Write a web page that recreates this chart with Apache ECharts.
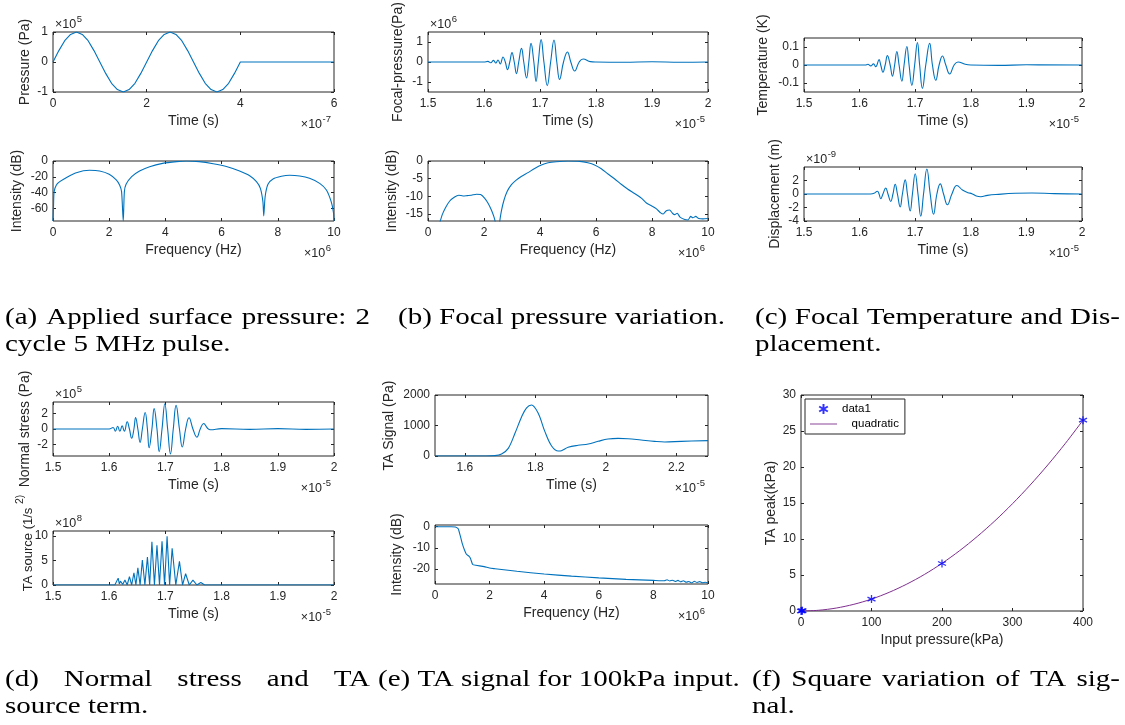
<!DOCTYPE html>
<html><head><meta charset="utf-8">
<script src="https://cdn.jsdelivr.net/npm/echarts@6/dist/echarts.min.js"></script>
<style>html,body{margin:0;padding:0;background:#fff}#c{width:1125px;height:725px}</style>
</head><body><div id="c"></div>
<script>
// ================= DATA =================
// (a) applied surface pressure: time (x1e-7 s), pressure (x1e5 Pa)
const pulseTime = [0,0.125,0.25,0.375,0.5,0.625,0.75,0.875,1,1.125,1.25,1.375,1.5,1.625,1.75,1.875,2,2.125,2.25,2.375,2.5,2.625,2.75,2.875,3,3.125,3.25,3.375,3.5,3.625,3.75,3.875,4,6];
const pulsePressure = [0,0.38,0.71,0.92,1,0.92,0.71,0.38,0,-0.38,-0.71,-0.92,-1,-0.92,-0.71,-0.38,0,0.38,0.71,0.92,1,0.92,0.71,0.38,0,-0.38,-0.71,-0.92,-1,-0.92,-0.71,-0.38,0,0];
// (a) spectrum: frequency (x1e6 Hz), intensity (dB)
const pulseFreq = [0,0.02,0.04,0.12,0.24,0.47,0.83,1.3,1.66,2.0,2.25,2.37,2.44,2.5,2.54,2.6,2.8,3.08,3.44,3.9,4.4,4.75,5.2,5.7,6.2,6.64,7.0,7.24,7.38,7.47,7.5,7.55,7.65,7.83,8.13,8.42,8.78,9.13,9.49,9.73,9.9,9.98,10];
const pulseDb = [-76,-55,-38.8,-30.4,-26.2,-21.1,-14.8,-11.8,-12.7,-16.9,-24,-30.4,-38.8,-76,-38.8,-29.5,-19.8,-12.7,-7.2,-3,-0.8,0,-0.8,-3.4,-7.2,-12.7,-18.6,-26.2,-34.6,-51.5,-69.6,-45,-29.5,-22.8,-19.4,-18.1,-19,-21.9,-28.3,-36.7,-51.5,-65,-76];
// (b) focal pressure: time (x1e-5 s), pressure (x1e6 Pa)
const focalTime = [1.5,1.6,1.607,1.612,1.617,1.621,1.625,1.629,1.634,1.638,1.642,1.646,1.650,1.654,1.658,1.662,1.667,1.671,1.676,1.680,1.684,1.689,1.693,1.697,1.702,1.707,1.713,1.719,1.725,1.730,1.735,1.742,1.749,1.755,1.762,1.770,1.777,1.790,1.800,1.850,1.900,1.950,2.0];
const focalPressure = [0,0,0.03,-0.04,0.08,-0.05,0.1,-0.1,0.25,0,-0.38,0,0.47,0,-0.58,0,0.68,0,-0.80,0,0.93,0,-0.97,0,1.12,0,-1.18,0,1.10,0,-0.87,0,0.50,0,-0.45,0,0.15,0.02,0,-0.01,0.01,-0.01,0];
// (b) spectrum: frequency (x1e6 Hz), intensity (dB)
const focalFreq = [0.42,0.51,0.62,0.77,0.95,1.10,1.25,1.40,1.55,1.73,1.88,2.02,2.14,2.26,2.35,2.40,2.45,2.52,2.56,2.62,2.71,2.83,2.98,3.15,3.33,3.57,3.81,4.05,4.29,4.58,5.0,5.42,5.71,5.95,6.19,6.43,6.67,6.90,7.14,7.38,7.62,7.80,7.98,8.15,8.31,8.40,8.51,8.63,8.73,8.81,8.90,9.0,9.17,9.29,9.38,9.46,9.56,9.67,9.82,10];
const focalDb = [-17.5,-15.2,-13.3,-11.4,-10.2,-9.7,-9.9,-9.8,-9.7,-9.4,-9.5,-10.5,-11.9,-13.8,-15.7,-17.2,-20,-20,-17.2,-14.2,-11.2,-8.6,-6.7,-5.4,-4.4,-3.3,-2.1,-1.1,-0.5,-0.2,0,-0.1,-0.5,-1.1,-2.2,-3.7,-5.1,-6.6,-8.0,-9.2,-10.5,-11.9,-12.7,-13.5,-14.7,-15.0,-14.1,-13.9,-14.8,-15.2,-14.8,-15.9,-16.6,-16.7,-15.7,-16.1,-15.7,-16.3,-16.4,-16.3];
// (c) focal temperature: time (x1e-5 s), temperature (K)
const tempTime = [1.5,1.61,1.615,1.62,1.625,1.629,1.635,1.638,1.642,1.646,1.650,1.655,1.659,1.663,1.667,1.671,1.676,1.680,1.685,1.689,1.694,1.699,1.704,1.708,1.713,1.719,1.726,1.731,1.737,1.743,1.749,1.755,1.762,1.770,1.777,1.790,1.800,1.850,1.900,2.0];
const tempK = [0,0,0.004,-0.005,0.006,-0.01,0.03,0,-0.04,0,0.052,0,-0.062,0,0.075,0,-0.09,0,0.103,0,-0.113,0,0.125,0,-0.13,0,0.12,0,-0.085,0,0.05,0,-0.05,0,0.017,0.004,0,-0.002,0.001,0];
// (c) displacement: time (x1e-5 s), displacement (x1e-9 m)
const dispTime = [1.5,1.62,1.626,1.632,1.635,1.638,1.642,1.647,1.651,1.656,1.660,1.664,1.668,1.673,1.677,1.682,1.686,1.691,1.695,1.700,1.705,1.710,1.715,1.721,1.727,1.733,1.739,1.745,1.751,1.758,1.766,1.775,1.785,1.795,1.802,1.81,1.818,1.83,1.85,1.88,1.91,1.95,2.0];
const dispM = [0,0,0.1,0.4,0,-0.7,0,0.9,0,-1.1,0,1.45,0,-1.9,0,2.1,0,-2.5,0,3.0,0,-3.3,0,3.7,0,-3.0,0,1.5,0,-1.6,0,1.25,0.6,0.2,0.05,-0.3,-0.4,-0.2,-0.05,0.1,0.15,0.05,0];
// (d) normal stress: time (x1e-5 s), stress (x1e5 Pa)
const stressTime = [1.5,1.60,1.607,1.611,1.615,1.619,1.623,1.627,1.632,1.636,1.640,1.644,1.647,1.651,1.655,1.659,1.664,1.668,1.671,1.676,1.680,1.685,1.689,1.694,1.699,1.704,1.709,1.714,1.719,1.725,1.730,1.736,1.742,1.749,1.756,1.762,1.768,1.775,1.78,1.8,1.85,1.9,1.95,2.0];
const stressPa = [0,0,0.2,-0.3,0.35,-0.3,0.4,-0.3,0.94,0,-1.19,0,1.49,0,-1.74,0,2.13,0,-2.43,0,2.64,0,-2.94,0,3.28,0,-3.23,0,3.06,0,-2.34,0,1.45,0,-1.06,0,0.72,0.1,-0.1,0.05,-0.05,0.05,-0.05,0];
// (d) TA source: time (x1e-5 s), source (x1e8 1/s^2)
const srcTime = [1.5,1.610,1.613,1.616,1.618,1.620,1.624,1.628,1.632,1.636,1.640,1.644,1.6475,1.651,1.655,1.659,1.6635,1.668,1.672,1.676,1.6805,1.685,1.6895,1.694,1.6985,1.703,1.7075,1.712,1.7185,1.725,1.7305,1.736,1.7425,1.749,1.756,1.763,1.770,2.0];
const srcVal = [0,0,0.3,1.4,0.2,0.8,0.1,1.0,0,1.7,0,2.5,0,3.5,0,5.1,0,5.7,0,8.8,0,8.1,0,8.9,0,9.9,0,7.5,0,4.8,0,2.3,0,1.0,0,0.5,0,0];
// (e) TA signal: time (x1e-5 s), signal (Pa)
const sigTime = [1.515,1.6,1.66,1.685,1.704,1.723,1.742,1.761,1.775,1.789,1.808,1.827,1.846,1.865,1.874,1.893,1.921,1.95,1.978,2.006,2.035,2.063,2.1,2.138,2.167,2.214,2.29];
const sigPa = [0,0,0,11,66,251,743,1290,1580,1672,1399,798,328,164,175,284,350,394,481,557,579,568,525,481,459,481,503];
// (e) TA spectrum: frequency (x1e6 Hz), intensity (dB)
const sigFreq = [0,0.3,0.6,0.75,0.85,0.92,1.0,1.08,1.15,1.25,1.3,1.38,1.5,1.8,2.0,2.2,3,4,5,6,7,8,8.4,8.5,8.6,8.7,8.8,8.9,9.0,9.1,9.2,9.3,9.4,9.5,9.6,9.7,9.8,9.9,10];
const sigDb = [0,0,0,-0.1,-1,-4,-8,-11,-13,-14,-15,-17.8,-18.2,-18.8,-19.5,-19.8,-21,-22.3,-23.3,-24.1,-24.8,-25.3,-25.5,-25,-25.6,-25.2,-25.8,-25.3,-26,-25.5,-26.2,-25.8,-26.5,-25.7,-26.3,-25.9,-26.4,-26.2,-26.5];
// (f) TA peak vs input pressure (kPa)
const inputKPa = [0,1,2,100,200,400];
const peakKPa = [0,0.02,0.05,1.65,6.6,26.5];
const fitKPa = [0,25,50,75,100,125,150,175,200,225,250,275,300,325,350,375,400];
const fitPeak = [0,0.1,0.41,0.93,1.65,2.59,3.73,5.07,6.62,8.38,10.35,12.52,14.9,17.49,20.28,23.28,26.5];
// captions
const capA = ['(a) Applied surface pressure: 2', 'cycle 5 MHz pulse.'];
const capB = ['(b) Focal pressure variation.'];
const capC = ['(c) Focal Temperature and Dis-', 'placement.'];
const capD = ['(d) Normal stress and TA', 'source term.'];
const capE = ['(e) TA signal for 100kPa input.'];
const capF = ['(f) Square variation of TA sig-', 'nal.'];

// ================= LAYOUT / STYLE =================
const FONT = '"Liberation Sans", Arial, Helvetica, sans-serif';
const SERIF = '"Liberation Serif", "Times New Roman", serif';
const TXT = '#262626';
const BLUE = '#0072BD';
const zip = (a, b) => a.map((v, i) => [v, b[i]]);
const cv = document.createElement('canvas');
const ctx = cv.getContext('2d');
const tw = (t, f) => { ctx.font = f; return ctx.measureText(t).width; };

const panels = [
  {box:[53,32,334,92], x:[0,6], xt:[0,2,4,6], y:[-1,1], yt:[-1,0,1], xn:'Time (s)', yn:'Pressure (Pa)', yg:21, xe:'-7', ye:'5',
   s:[{d:zip(pulseTime,pulsePressure), smooth:false}]},
  {box:[53,161,334,221], x:[0,10], xt:[0,2,4,6,8,10], y:[-76,0], yt:[-60,-40,-20,0], xn:'Frequency (Hz)', yn:'Intensity (dB)', yg:29, xe:'6',
   s:[{d:zip(pulseFreq,pulseDb), smooth:0.25}]},
  {box:[428,32,708,92], x:[1.5,2], xt:[1.5,1.6,1.7,1.8,1.9,2], y:[-1.5,1.5], yt:[-1,0,1], xn:'Time (s)', yn:'Focal-pressure(Pa)', yg:23, xe:'-5', ye:'6',
   s:[{d:zip(focalTime,focalPressure), smooth:0.45}]},
  {box:[428,161,708,221], x:[0,10], xt:[0,2,4,6,8,10], y:[-17,0], yt:[-15,-10,-5,0], xn:'Frequency (Hz)', yn:'Intensity (dB)', yg:29, xe:'6',
   s:[{d:zip(focalFreq,focalDb), smooth:0.2}]},
  {box:[804,38,1082,92], x:[1.5,2], xt:[1.5,1.6,1.7,1.8,1.9,2], y:[-0.15,0.15], yt:[-0.1,0,0.1], xn:'Time (s)', yn:'Temperature (K)', yg:34, xe:'-5',
   s:[{d:zip(tempTime,tempK), smooth:0.45}]},
  {box:[804,167,1082,221], x:[1.5,2], xt:[1.5,1.6,1.7,1.8,1.9,2], y:[-4,4], yt:[-4,-2,0,2], xn:'Time (s)', yn:'Displacement (m)', yg:22, xe:'-5', ye:'-9',
   s:[{d:zip(dispTime,dispM), smooth:0.45}]},
  {box:[53,402,334,456], x:[1.5,2], xt:[1.5,1.6,1.7,1.8,1.9,2], y:[-3.5,3.5], yt:[-2,0,2], xn:'Time (s)', yn:'Normal stress (Pa)', yg:21, xe:'-5', ye:'5',
   s:[{d:zip(stressTime,stressPa), smooth:0.45}]},
  {box:[53,531,334,585], x:[1.5,2], xt:[1.5,1.6,1.7,1.8,1.9,2], y:[0,11], yt:[0,5,10], xn:'Time (s)', yn:null, xe:'-5', ye:'8',
   s:[{d:zip(srcTime,srcVal), smooth:false}]},
  {box:[435,395,708,456], x:[1.515,2.29], xt:[1.6,1.8,2,2.2], y:[0,2000], yt:[0,1000,2000], xn:'Time (s)', yn:'TA Signal (Pa)', yg:39, xe:'-5',
   s:[{d:zip(sigTime,sigPa), smooth:0.35}]},
  {box:[435,525,708,584], x:[0,10], xt:[0,2,4,6,8,10], y:[-27,0.8], yt:[-20,-10,0], xn:'Frequency (Hz)', yn:'Intensity (dB)', yg:31, xe:'6',
   s:[{d:zip(sigFreq,sigDb), smooth:0.15}]},
  {box:[801,395,1083,611], x:[0,400], xt:[0,100,200,300,400], y:[0,30], yt:[0,5,10,15,20,25,30], xn:'Input pressure(kPa)', yn:'TA peak(kPa)', yg:23,
   s:[]}
];

const option = {animation:false, backgroundColor:'#fff', grid:[], xAxis:[], yAxis:[], series:[], graphic:[]};
const tick = v => ({show:true, inside:true, length:3, lineStyle:{color:TXT, width:1}, customValues:v});
const lab = (v, m, show) => ({show:show, margin:m, color:TXT, fontSize:12, fontFamily:FONT, customValues:v, formatter: x => String(x)});
const nameStyle = {color:TXT, fontSize:14, fontFamily:FONT};
const noLine = {show:false, onZero:false};

function expo(x, y, e, alignRight) {
  const fb = '12.5px ' + FONT, fe = '9.5px ' + FONT;
  const wb = tw('×10', fb), we = tw(e, fe);
  const x0 = alignRight ? x - we - wb - 0.5 : x;
  option.graphic.push({type:'text', x:x0, y:y, silent:true, style:{text:'×10', font:fb, fill:TXT, textAlign:'left', align:'left', textVerticalAlign:'middle', verticalAlign:'middle'}});
  option.graphic.push({type:'text', x:x0 + wb + 0.5, y:y - 6, silent:true, style:{text:e, font:fe, fill:TXT, textAlign:'left', align:'left', textVerticalAlign:'middle', verticalAlign:'middle'}});
}

panels.forEach((p, i) => {
  const [l, t, r, b] = p.box;
  option.grid.push({left:l, top:t, width:r - l, height:b - t, show:true, borderColor:TXT, borderWidth:1, backgroundColor:'#fff', containLabel:false});
  option.xAxis.push({type:'value', gridIndex:i, min:p.x[0], max:p.x[1], position:'bottom', axisLine:noLine, splitLine:{show:false},
    axisTick:tick(p.xt), axisLabel:lab(p.xt, 6, true), name:p.xn, nameLocation:'middle', nameGap:22, nameTextStyle:nameStyle});
  option.xAxis.push({type:'value', gridIndex:i, min:p.x[0], max:p.x[1], position:'top', axisLine:noLine, splitLine:{show:false},
    axisTick:tick(p.xt), axisLabel:lab(p.xt, 6, false)});
  option.yAxis.push({type:'value', gridIndex:i, min:p.y[0], max:p.y[1], position:'left', axisLine:noLine, splitLine:{show:false},
    axisTick:tick(p.yt), axisLabel:lab(p.yt, 5, true), name:p.yn || '', nameLocation:'middle', nameGap:p.yg || 20, nameTextStyle:nameStyle});
  option.yAxis.push({type:'value', gridIndex:i, min:p.y[0], max:p.y[1], position:'right', axisLine:noLine, splitLine:{show:false},
    axisTick:tick(p.yt), axisLabel:lab(p.yt, 5, false)});
  p.s.forEach(s => option.series.push({type:'line', xAxisIndex:2 * i, yAxisIndex:2 * i, data:s.d, showSymbol:false, symbol:'none',
    smooth:s.smooth, lineStyle:{color:BLUE, width:1.1}, itemStyle:{color:BLUE}, clip:true, silent:true}));
  if (p.xe) expo(r - 3, b + 33, p.xe, true);
  if (p.ye) expo(l + 2, t - 7, p.ye, false);
});

// (f) scatter + quadratic
const fi = panels.length - 1;
const ASTER = 'path://M5,0L5,10M0.67,2.5L9.33,7.5M0.67,7.5L9.33,2.5';
const LINEICON = 'path://M0,4.5L30,4.5L30,5.5L0,5.5Z';
option.series.push({type:'scatter', name:'data1', xAxisIndex:2 * fi, yAxisIndex:2 * fi, data:zip(inputKPa, peakKPa),
  symbol:ASTER, symbolSize:8, itemStyle:{color:'rgba(0,0,0,0)', borderColor:'#0000FF', borderWidth:1.3}, z:5});
option.series.push({type:'line', name:'quadratic', xAxisIndex:2 * fi, yAxisIndex:2 * fi, data:zip(fitKPa, fitPeak),
  showSymbol:false, symbol:'none', smooth:0.3, lineStyle:{color:'#7E2F8E', width:1}, itemStyle:{color:'#7E2F8E'}});
option.legend = {show:true, left:805, top:399, orient:'vertical', itemWidth:27, itemHeight:10, itemGap:3, padding:[4,6,4,5],
  borderColor:TXT, borderWidth:1, backgroundColor:'#fff', selectedMode:false,
  textStyle:{fontSize:11.5, fontFamily:FONT, color:'#000'},
  formatter: n => n === 'quadratic' ? '   quadratic' : n,
  data:[{name:'data1', icon:ASTER}, {name:'quadratic', icon:LINEICON, itemStyle:{color:'#7E2F8E', borderWidth:0}}]};

// (d) bottom y label with raised "2)"
option.graphic.push({type:'text', x:25, y:543, rotation:Math.PI / 2, silent:true,
  style:{text:'{a|TA source (1/s }{b|2)}', font:'13px ' + FONT, fill:TXT, textAlign:'center', align:'center', textVerticalAlign:'middle', verticalAlign:'middle',
    rich:{a:{fontSize:13, fontFamily:FONT, fill:TXT, color:TXT, lineHeight:20, verticalAlign:'bottom'}, b:{fontSize:10.5, fontFamily:FONT, fill:TXT, color:TXT, lineHeight:20, verticalAlign:'top'}}}});

// captions
const CF = '24px ' + SERIF;
const capScale = 327 / tw(capB[0], CF);
function capLine(text, x, y, width) {
  if (!width) {
    option.graphic.push({type:'text', x:x, y:y, scaleX:capScale, silent:true, style:{text:text, font:CF, fill:'#000', textAlign:'left', align:'left', textVerticalAlign:'middle', verticalAlign:'middle'}});
    return;
  }
  const words = text.split(' ');
  const ws = words.map(w => tw(w, CF) * capScale);
  const gap = (width - ws.reduce((a, c) => a + c, 0)) / (words.length - 1);
  let cx = x;
  words.forEach((w, k) => {
    option.graphic.push({type:'text', x:cx, y:y, scaleX:capScale, silent:true, style:{text:w, font:CF, fill:'#000', textAlign:'left', align:'left', textVerticalAlign:'middle', verticalAlign:'middle'}});
    cx += ws[k] + gap;
  });
}
capLine(capA[0], 5, 318, 365); capLine(capA[1], 5, 345);
capLine(capB[0], 398, 318);
capLine(capC[0], 755, 318, 365); capLine(capC[1], 755, 345);
capLine(capD[0], 5, 680, 365); capLine(capD[1], 5, 707);
capLine(capE[0], 378, 680);
capLine(capF[0], 752, 680, 368); capLine(capF[1], 752, 707);

const chart = echarts.init(document.getElementById('c'), null, {renderer:'canvas'});
chart.setOption(option);
</script></body></html>
